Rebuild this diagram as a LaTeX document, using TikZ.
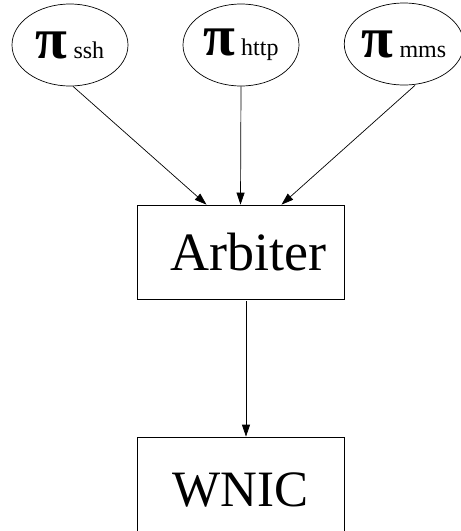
\documentclass[tikz,border=0pt]{standalone}
\usepackage{fontspec}
\setmainfont{Liberation Serif}
\usetikzlibrary{shapes.geometric,arrows.meta}
\tikzset{
  policy/.style={draw, ellipse, line width=0.7pt, minimum width=116pt, minimum height=82pt, inner sep=0pt},
  blockbox/.style={draw, rectangle, line width=0.7pt, inner sep=0pt},
  conn/.style={line width=0.7pt, -{Triangle[length=12pt,width=8pt]}},
}
\newcommand{\polname}[1]{{\fontsize{58}{58}\selectfont\bfseries π}\hspace{6pt}{\fontsize{24}{24}\selectfont #1}}
\begin{document}
\begin{tikzpicture}[x=1pt,y=-1pt]
\clip (0,0) rectangle (461,531);
\node[policy] (ssh) at (70,45) {\polname{ssh}};
\node[policy] (http) at (241,45) {\polname{http}};
\node[policy] (mms) at (404,44) {\polname{mms}};
\node[blockbox, minimum width=207pt, minimum height=94pt] (arb) at (240.5,252) {};
\node[font=\fontsize{54}{54}\selectfont] (arbt) at (248,252) {Arbiter};
\node[blockbox, minimum width=207pt, minimum height=106pt, font=\fontsize{51}{51}\selectfont] (wnic) at (240.5,490) {WNIC};
\draw[conn] ([xshift=3pt]ssh.south) -- ([xshift=-34pt]arb.north);
\draw[conn] (http.south) -- (arb.north);
\draw[conn] ([xshift=11pt]mms.south) -- ([xshift=41pt]arb.north);
\draw[conn, shorten <=2pt] ([xshift=5.5pt]arb.south) -- ([xshift=5.5pt]wnic.north);
\end{tikzpicture}
\end{document}
